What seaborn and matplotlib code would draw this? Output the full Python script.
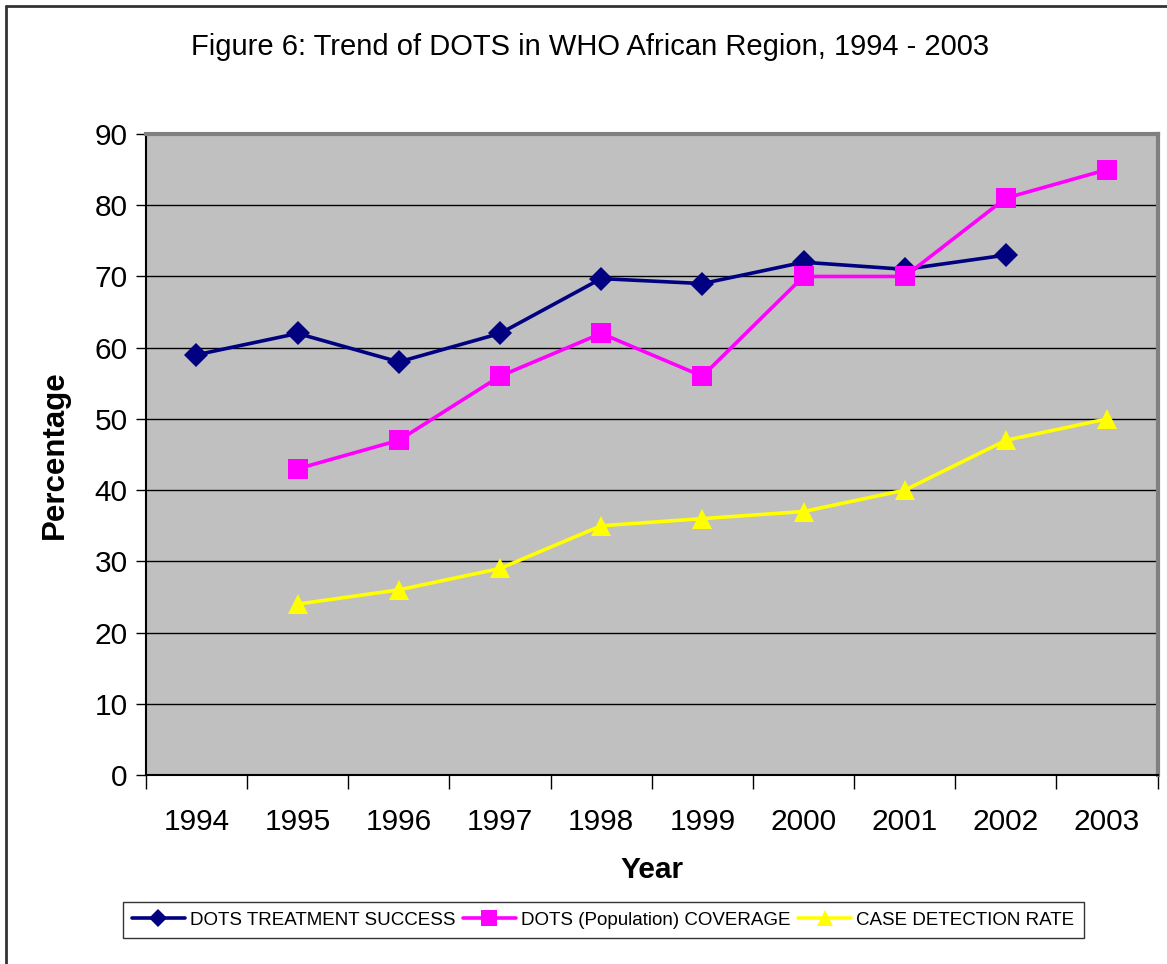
"""
Figure 6: Trend of DOTS in WHO African Region, 1994 - 2003
"""

import numpy as np
import pandas as pd
import matplotlib
matplotlib.use("Agg")
import matplotlib.pyplot as plt
from matplotlib.lines import Line2D
import seaborn as sns

# data
years = ["1994", "1995", "1996", "1997", "1998", "1999", "2000", "2001", "2002", "2003"]
treatment_success = [59, 62, 58, 62, 69.7, 69, 72, 71, 73, np.nan]
population_coverage = [np.nan, 43, 47, 56, 62, 56, 70, 70, 81, 85]
case_detection = [np.nan, 24, 26, 29, 35, 36, 37, 40, 47, 50]

series_names = ["DOTS TREATMENT SUCCESS", "DOTS (Population) COVERAGE", "CASE DETECTION RATE"]
colors = ["#000080", "#FF00FF", "#FFFF00"]
markers = ["D", "s", "^"]
marker_sizes = [12, 14, 14]

df = pd.DataFrame({
    "Year": years,
    series_names[0]: treatment_success,
    series_names[1]: population_coverage,
    series_names[2]: case_detection,
})
long_df = df.melt(id_vars="Year", var_name="Series", value_name="Percentage").dropna()

sns.set_theme(style="white")
plt.rcParams["font.family"] = ["Liberation Sans", "DejaVu Sans"]
plt.rcParams["text.color"] = "black"
plt.rcParams["axes.labelcolor"] = "black"
plt.rcParams["xtick.color"] = "black"
plt.rcParams["ytick.color"] = "black"

fig = plt.figure(figsize=(11.67, 9.64), dpi=100)
ax = fig.add_axes([0.125, 0.196, 0.867, 0.665])
ax.set_facecolor("#C0C0C0")

x_pos = {y: i for i, y in enumerate(years)}
long_df["x"] = long_df["Year"].map(x_pos)

for name, col, mk, ms in zip(series_names, colors, markers, marker_sizes):
    sub = long_df[long_df["Series"] == name]
    sns.lineplot(data=sub, x="x", y="Percentage", ax=ax, color=col, linewidth=2.6,
                 marker=mk, markersize=ms, markeredgewidth=0, markeredgecolor=col,
                 legend=False, zorder=3)

ax.set_xlim(-0.5, len(years) - 0.5)
ax.set_ylim(0, 90)
ax.set_yticks(range(0, 91, 10))
ax.yaxis.grid(True, color="black", linewidth=1)
ax.set_axisbelow(True)

# category labels centered, tick marks on the boundaries
ax.set_xticks(range(len(years)))
ax.set_xticklabels(years)
ax.set_xticks(np.arange(-0.5, len(years), 1), minor=True)
ax.tick_params(axis="x", which="major", length=0, pad=24, labelsize=21.5, labelcolor="black")
ax.tick_params(axis="x", which="minor", length=10, width=1, color="black", direction="out", bottom=True)
ax.tick_params(axis="y", which="major", length=7, width=1, color="black", direction="out",
               left=True, labelsize=21.5, pad=6, labelcolor="black")

for side in ["left", "bottom"]:
    ax.spines[side].set_color("black")
    ax.spines[side].set_linewidth(1.5)
for side in ["top", "right"]:
    ax.spines[side].set_color("#808080")
    ax.spines[side].set_linewidth(3)

ax.set_xlabel("Year", fontsize=21.5, fontweight="bold", labelpad=14, color="black")
ax.set_ylabel("Percentage", fontsize=22.5, fontweight="bold", labelpad=18, color="black")

fig.text(0.506, 0.951, "Figure 6: Trend of DOTS in WHO African Region, 1994 - 2003",
         ha="center", va="center", fontsize=21, color="black")

handles = [Line2D([0], [0], color=c, marker=m, markersize=s * 0.8, linewidth=2.6,
                  markeredgewidth=0) for c, m, s in zip(colors, markers, marker_sizes)]
leg = fig.legend(handles, series_names, loc="center", bbox_to_anchor=(0.517, 0.0455),
                 ncol=3, fontsize=13.5, frameon=True, fancybox=False, handlelength=2.8,
                 handletextpad=0.3, columnspacing=0.4, borderpad=0.5)
leg.get_frame().set_edgecolor("black")
leg.get_frame().set_linewidth(1)
for t in leg.get_texts():
    t.set_color("black")

# outer chart border (top and left visible)
fig.add_artist(Line2D([0.005, 1.0], [0.994, 0.994], color="#333333", linewidth=2,
                      transform=fig.transFigure))
fig.add_artist(Line2D([0.005, 0.005], [0.0, 0.994], color="#333333", linewidth=2,
                      transform=fig.transFigure))

fig.savefig("out.png", dpi=100)
